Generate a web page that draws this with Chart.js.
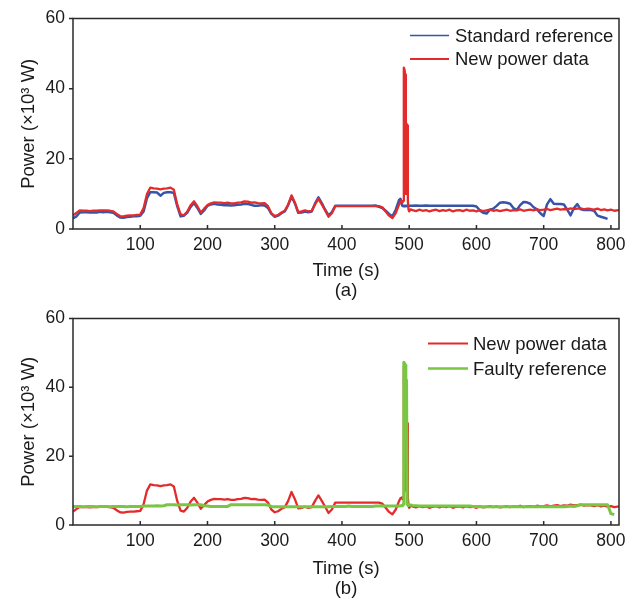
<!DOCTYPE html>
<html><head><meta charset="utf-8">
<script src="https://cdn.jsdelivr.net/npm/chart.js@4"></script>
<style>
html,body{margin:0;padding:0;background:#fff;}
#wrap{position:relative;width:637px;height:601px;overflow:hidden;background:#fff;}
#ca{position:absolute;left:0;top:0;}
#cb{position:absolute;left:0;top:300px;}
</style></head><body>
<div id="wrap">
<canvas id="ca" width="637" height="305"></canvas>
<canvas id="cb" width="637" height="301"></canvas>
</div>
<script>
// ---------- data ----------
const times = [
0,5,10,15,20,25,30,35,40,45,
50,55,60,65,70,75,80,85,90,95,
100,105,110,115,120,125,130,135,140,145,
150,155,160,165,170,175,180,185,190,195,
200,205,210,215,220,225,230,235,240,245,
250,255,260,265,270,275,280,285,290,295,
300,305,310,315,320,325,330,335,340,345,
350,355,360,365,370,375,380,385,390,395,
400,405,410,415,420,425,430,435,440,445,
450,455,460,465,470,475,480,485,
487,489,490,491,492,493,494,495,496,497,498,499,500,502,
505,510,515,520,525,530,535,540,545,550,
555,560,565,570,575,580,585,590,595,600,
605,610,615,620,625,630,635,640,645,650,
655,660,665,670,675,680,685,690,695,700,
705,710,715,720,725,730,735,740,745,750,
755,760,765,770,775,780,785,790,795,800,
805,812];

const newPowerData = [
3.9,4.6,5.3,5.2,5.2,5.1,5.2,5.2,5.3,5.3,
5.3,5.2,5.0,4.3,3.7,3.6,3.8,3.9,3.9,4.0,
4.1,6.0,10.0,11.8,11.6,11.5,11.3,11.5,11.6,11.8,
11.2,7.0,4.2,3.9,5.0,6.8,7.9,6.5,4.7,5.8,
6.8,7.3,7.6,7.5,7.5,7.4,7.5,7.3,7.3,7.5,
7.6,7.9,7.8,7.5,7.6,7.4,7.3,7.4,6.5,4.5,
3.7,4.0,4.7,5.2,7.0,9.6,7.5,4.8,5.0,5.3,
5.0,5.2,7.0,8.6,7.0,5.3,3.5,4.5,6.5,6.5,
6.5,6.5,6.5,6.5,6.5,6.5,6.5,6.5,6.5,6.5,
6.5,6.5,6.2,5.0,3.8,3.1,4.5,7.0,
7.8,8.0,7.5,8.0,46,45.5,44,10,30,29.5,8,5.5,5.0,5.6,
5.4,5.1,5.5,5.2,5.4,5.0,5.3,5.5,5.1,5.4,
5.2,5.5,5.0,5.3,5.4,5.1,5.5,5.2,5.3,5.0,
5.4,5.1,5.3,5.5,5.2,5.4,5.1,5.3,5.5,5.2,
5.4,5.3,5.6,5.2,5.4,5.5,5.3,5.6,5.4,5.5,
5.7,5.4,5.6,5.8,5.5,5.7,5.6,5.9,5.7,5.8,
5.9,5.6,5.8,5.7,5.5,5.8,5.4,5.6,5.3,5.5,
5.2,5.4];

const standardReference = [
3.0,3.6,4.7,4.8,4.8,4.7,4.8,4.7,4.9,4.8,
4.9,4.8,4.6,3.9,3.3,3.2,3.4,3.5,3.6,3.6,
3.8,5.0,8.8,10.5,10.5,10.4,9.5,10.3,10.5,10.5,
10.3,6.5,3.6,3.8,4.7,6.3,7.4,6.0,4.3,5.3,
6.6,7.0,7.2,7.0,6.9,6.8,6.8,6.7,6.8,6.9,
7.0,7.2,7.1,6.9,6.6,6.6,6.8,6.7,6.0,4.3,
3.5,3.8,4.5,5.0,6.8,9.2,7.3,4.6,4.7,5.0,
4.8,5.0,7.3,9.0,7.4,5.5,3.9,4.8,6.6,6.6,
6.6,6.6,6.6,6.6,6.6,6.6,6.6,6.6,6.6,6.6,
6.7,6.3,6.0,5.2,4.3,3.6,5.5,8.3,
8.6,7.0,6.6,6.5,6.6,6.6,6.5,6.6,6.6,6.6,6.5,6.6,6.6,6.6,
6.6,6.7,6.6,6.6,6.7,6.6,6.6,6.6,6.6,6.6,
6.6,6.6,6.6,6.6,6.6,6.6,6.6,6.6,6.6,6.4,
5.3,4.6,4.4,5.5,5.8,6.6,7.5,7.6,7.5,7.2,
6.0,5.4,6.8,7.7,7.6,7.2,6.2,5.6,4.5,3.7,
7.0,8.5,7.2,7.1,7.1,7.0,5.5,3.9,6.0,7.1,
5.6,5.4,5.4,5.4,5.2,3.8,3.5,3.2,2.9,null,
null,null];

const faultyReference = [
5.3,5.4,5.4,5.3,5.4,5.4,5.4,5.3,5.4,5.4,
5.4,5.3,5.4,5.4,5.4,5.4,5.3,5.4,5.4,5.4,
5.4,5.5,5.5,5.5,5.5,5.6,5.5,5.6,5.9,5.9,
5.9,5.8,5.9,5.9,5.9,5.8,5.9,5.9,5.9,5.6,
5.5,5.4,5.4,5.4,5.4,5.4,5.4,5.9,5.9,5.9,
5.9,5.9,5.9,5.9,5.9,5.9,5.9,5.9,5.8,5.4,
5.3,5.3,5.3,5.3,5.3,5.3,5.3,5.3,5.3,5.3,
5.3,5.3,5.3,5.3,5.3,5.3,5.3,5.4,5.4,5.4,
5.4,5.4,5.5,5.4,5.4,5.4,5.4,5.4,5.4,5.4,
5.5,5.5,5.5,5.5,5.5,5.5,5.5,5.5,
5.6,5.6,5.6,6.0,47.3,47.0,46.5,42.5,42.0,6.0,5.8,5.7,5.8,5.8,
5.7,5.6,5.5,5.5,5.5,5.5,5.5,5.5,5.5,5.5,
5.5,5.5,5.5,5.5,5.5,5.5,5.5,5.5,5.4,5.4,
5.3,5.3,5.3,5.3,5.3,5.3,5.3,5.3,5.3,5.3,
5.3,5.3,5.3,5.3,5.3,5.3,5.3,5.3,5.3,5.3,
5.3,5.3,5.3,5.3,5.3,5.3,5.4,5.5,5.4,5.6,
5.9,5.9,5.9,5.9,5.9,5.9,5.9,5.9,5.9,3.3,
3.0,null];

const xTicks = [100,200,300,400,500,600,700,800];
const yTicks = [0,20,40,60];
const labelStandard = 'Standard reference';
const labelNew = 'New power data';
const labelFaulty = 'Faulty reference';
const xTitle = 'Time (s)';
const yTitle = 'Power (×10³ W)';

// ---------- styles ----------
const BLUE = '#3654a8', RED = '#e42b2b', GREEN = '#78c642';
const FAMILY = '"Liberation Sans", Arial, Helvetica, sans-serif';
const toXY = vals => times.map((t,i)=>({x:t, y:vals[i]}));

const framePlugin = {
  id:'frame',
  afterDraw(chart){
    const {ctx, chartArea:a, scales:{x,y}} = chart;
    const o = chart.options.plugins.frame;
    ctx.save();
    ctx.strokeStyle = '#2a2a2a';
    ctx.lineWidth = 1.5;
    ctx.strokeRect(a.left, a.top, a.right-a.left, a.bottom-a.top);
    ctx.beginPath();
    xTicks.forEach(v=>{const p=x.getPixelForValue(v); ctx.moveTo(p,a.bottom); ctx.lineTo(p,a.bottom-4);});
    yTicks.forEach(v=>{const p=y.getPixelForValue(v); ctx.moveTo(a.left,p); ctx.lineTo(a.left-4,p);});
    ctx.stroke();
    // legend inside plot area
    ctx.font = '18.5px ' + FAMILY;
    ctx.textBaseline = 'middle';
    ctx.textAlign = 'left';
    const tx = a.right - o.textFromRight;
    o.items.forEach((it,i)=>{
      const ly = a.top + o.firstRow + i*o.rowGap;
      ctx.strokeStyle = it.color;
      ctx.lineWidth = it.lw;
      ctx.beginPath();
      ctx.moveTo(tx - o.sampleLen - o.gap, ly);
      ctx.lineTo(tx - o.gap, ly);
      ctx.stroke();
      ctx.fillStyle = '#1a1a1a';
      ctx.fillText(it.label, tx, ly + 1);
    });
    ctx.restore();
  }
};

function makeOptions(padTop, xHeight, titleLines, titlePadBottom, titleLH, legend){
  return {
    responsive:false, animation:false,
    layout:{padding:{left:0, top:padTop, right:18, bottom:0}},
    plugins:{legend:{display:false}, tooltip:{enabled:false}, title:{display:false}, frame:legend},
    elements:{point:{radius:0}, line:{tension:0, borderJoinStyle:'round'}},
    scales:{
      x:{type:'linear', min:0, max:812,
        afterFit(s){ s.height = xHeight; },
        afterBuildTicks(s){ s.ticks = xTicks.map(v=>({value:v})); },
        grid:{display:false, drawTicks:false}, border:{display:false},
        ticks:{padding:6, color:'#1a1a1a', font:{family:FAMILY, size:17.5}, maxRotation:0, autoSkip:false},
        title:{display:true, text:titleLines, color:'#1a1a1a', font:{family:FAMILY, size:18.5, lineHeight:titleLH}, padding:{top:0, bottom:titlePadBottom}}
      },
      y:{type:'linear', min:0, max:60,
        afterFit(s){ s.width = 73; },
        afterBuildTicks(s){ s.ticks = yTicks.map(v=>({value:v})); },
        grid:{display:false, drawTicks:false}, border:{display:false},
        ticks:{padding:8, color:'#1a1a1a', font:{family:FAMILY, size:17.5}},
        title:{display:true, text:yTitle, color:'#1a1a1a', font:{family:FAMILY, size:18.5}, padding:{top:18, bottom:0}}
      }
    }
  };
}

new Chart(document.getElementById('ca'), {
  type:'line',
  data:{datasets:[
    {label:labelNew, data:toXY(newPowerData), borderColor:RED, borderWidth:2.3, spanGaps:false},
    {label:labelStandard, data:toXY(standardReference), borderColor:BLUE, borderWidth:2.5, spanGaps:false}
  ]},
  options:makeOptions(15, 76, [xTitle,'(a)'], 4, '20px', {
    textFromRight:164, sampleLen:39, gap:6, firstRow:17, rowGap:23.5,
    items:[{label:labelStandard,color:BLUE,lw:1.6},{label:labelNew,color:RED,lw:2.2}]
  }),
  plugins:[framePlugin]
});

new Chart(document.getElementById('cb'), {
  type:'line',
  data:{datasets:[
    {label:labelFaulty, data:toXY(faultyReference), borderColor:GREEN, borderWidth:3, spanGaps:false},
    {label:labelNew, data:toXY(newPowerData), borderColor:RED, borderWidth:2.3, spanGaps:false}
  ]},
  options:makeOptions(14, 76, [xTitle,'(b)'], 2.5, '20px', {
    textFromRight:146, sampleLen:40, gap:5, firstRow:25, rowGap:25,
    items:[{label:labelNew,color:RED,lw:2.2},{label:labelFaulty,color:GREEN,lw:2.6}]
  }),
  plugins:[framePlugin]
});
</script>
</body></html>
